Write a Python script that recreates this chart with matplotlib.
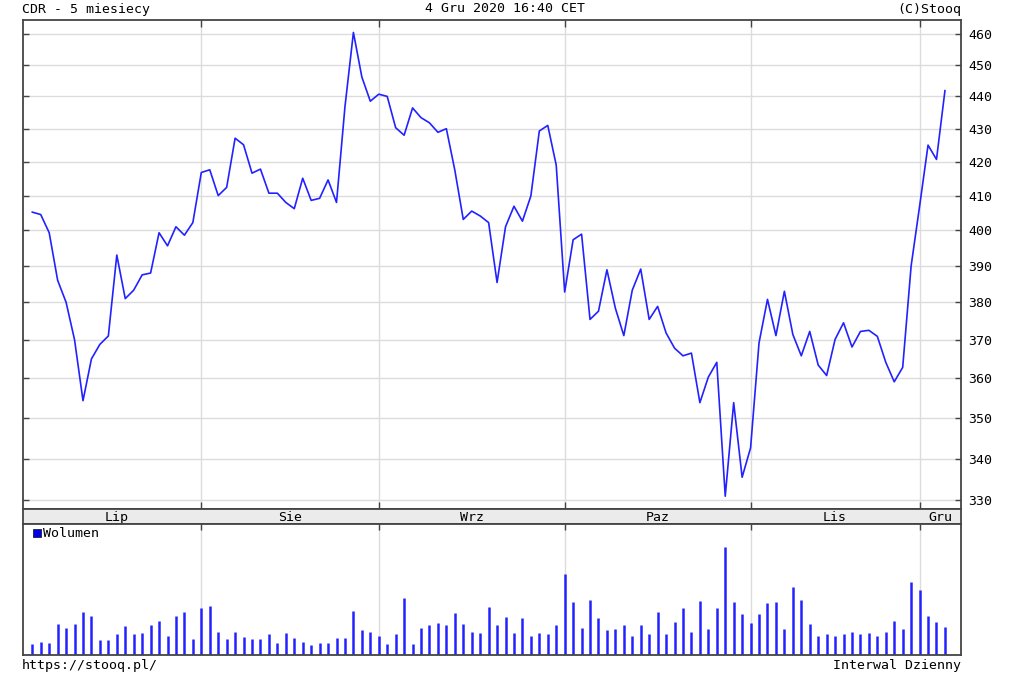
import numpy as np
import matplotlib
matplotlib.use("Agg")
from matplotlib import pyplot as plt

# CDR daily closes, 6 Jul 2020 .. 4 Dec 2020 (trading day index)
close = [405.2, 404.5, 399.3, 386.0, 380.0, 370.0, 354.3, 365.0, 368.8, 371.0,
         393.0, 381.0, 383.3, 387.5, 388.0, 399.3, 395.6, 401.0, 398.6, 402.2,
         416.8, 417.6, 410.0, 412.4, 427.1, 425.1, 416.6, 417.8, 410.7, 410.7,
         408.0, 406.2, 415.1, 408.6, 409.2, 414.6, 408.0, 436.8, 460.5, 446.1,
         438.5, 440.7, 440.0, 430.3, 428.0, 436.4, 433.4, 431.8, 428.9, 430.0,
         417.5, 403.1, 405.5, 404.1, 402.2, 385.4, 401.0, 406.9, 402.6, 409.9,
         429.3, 431.0, 419.0, 382.8, 397.3, 398.9, 375.4, 377.6, 388.9, 378.4,
         371.1, 383.3, 389.1, 375.4, 378.9, 371.8, 367.8, 365.8, 366.5, 353.8,
         360.3, 364.1, 331.0, 353.8, 335.5, 342.6, 369.2, 380.8, 371.1, 383.0,
         371.4, 365.8, 372.2, 363.4, 360.7, 370.1, 374.5, 368.1, 372.2, 372.5,
         370.9, 364.1, 359.1, 362.8, 390.0, 406.9, 425.0, 420.7, 441.8]

# volume (relative units)
volume = [33, 40, 37, 92, 81, 92, 129, 118, 44, 44,
          63, 86, 63, 66, 89, 103, 58, 118, 129, 48,
          140, 147, 70, 48, 70, 55, 48, 48, 63, 37,
          66, 52, 40, 29, 37, 37, 52, 52, 133, 74,
          70, 58, 33, 63, 170, 33, 81, 89, 96, 89,
          125, 92, 70, 66, 143, 89, 114, 66, 111, 58,
          66, 63, 89, 243, 158, 81, 166, 111, 74, 77,
          89, 58, 89, 63, 129, 63, 99, 140, 70, 162,
          77, 140, 323, 158, 122, 96, 122, 155, 158, 77,
          202, 166, 92, 58, 63, 58, 63, 70, 63, 66,
          58, 70, 103, 77, 217, 195, 118, 99, 85]

month_names = ["Lip", "Sie", "Wrz", "Paz", "Lis", "Gru"]
month_start = [0, 20, 41, 63, 85, 105]   # first trading day of each month
yticks = list(range(330, 461, 10))

x = np.arange(len(close))
xmin, xmax = -1.1, 109.9
bounds = month_start[1:]   # month boundaries get a tick and a gridline

W, H = 1024, 693
fig = plt.figure(figsize=(W / 100, H / 100), dpi=100)
plt.rcParams['font.family'] = 'DejaVu Sans Mono'
fs = 9.5
spine_c = '#444444'
grid_c = '#dcdcdc'
blue = '#2222ff'

def box(l, t, r, b):
    return [l / W, 1 - b / H, (r - l) / W, (b - t) / H]

def style(ax):
    for s in ax.spines.values():
        s.set_color(spine_c)
        s.set_linewidth(1.3)

# price panel
ax = fig.add_axes(box(23, 20, 961, 509))
ax.plot(x, close, color=blue, lw=1.2)
ax.set_yscale('log')
ax.set_ylim(328.0, 464.6)
ax.set_xlim(xmin, xmax)
ax.set_yticks(yticks)
ax.set_yticklabels([str(v) for v in yticks])
ax.yaxis.set_minor_locator(matplotlib.ticker.NullLocator())
ax.set_xticks(bounds)
ax.tick_params(axis='y', left=True, right=True, labelleft=False, labelright=True,
               direction='in', length=4, width=1, color=spine_c, labelsize=fs, pad=5)
ax.tick_params(axis='x', top=True, bottom=True, labelbottom=False,
               direction='in', length=5, width=1, color=spine_c)
ax.grid(True, color=grid_c, lw=1)
ax.set_axisbelow(True)
style(ax)

# month label band
band = fig.add_axes(box(23, 509, 961, 524))
band.set_facecolor('#ebebeb')
band.set_xlim(xmin, xmax)
band.set_ylim(0, 1)
band.set_xticks([])
band.set_yticks([])
ends = month_start[1:] + [xmax]
for name, a, b in zip(month_names, month_start, ends):
    band.text((a + b) / 2, 0.45, name, ha='center', va='center', fontsize=fs)
style(band)

# volume panel
av = fig.add_axes(box(23, 524, 961, 655))
av.vlines(x, 0, volume, color=blue, lw=1.8)
av.set_xlim(xmin, xmax)
av.set_ylim(0, 392)
av.set_yticks([])
av.set_xticks(bounds)
av.tick_params(axis='x', top=True, bottom=False, labelbottom=False,
               direction='in', length=4, width=1, color=spine_c)
av.grid(True, axis='x', color=grid_c, lw=1)
av.set_axisbelow(True)
av.plot([0.5], [365], marker='s', color='#0000ee', markersize=6,
        markeredgecolor='#222222', markeredgewidth=0.6, ls='none')
av.text(1.3, 365, "Wolumen", ha='left', va='center', fontsize=fs)
style(av)

# header and footer
fig.text(22 / W, 1 - 9 / H, "CDR - 5 miesiecy", ha='left', va='center', fontsize=fs)
fig.text(505 / W, 1 - 9 / H, "4 Gru 2020 16:40 CET", ha='center', va='center', fontsize=fs)
fig.text(961 / W, 1 - 9 / H, "(C)Stooq", ha='right', va='center', fontsize=fs)
fig.text(22 / W, 1 - 665 / H, "https://stooq.pl/", ha='left', va='center', fontsize=fs)
fig.text(961 / W, 1 - 665 / H, "Interwal Dzienny", ha='right', va='center', fontsize=fs)

fig.savefig("out.png", dpi=100, facecolor='white')
